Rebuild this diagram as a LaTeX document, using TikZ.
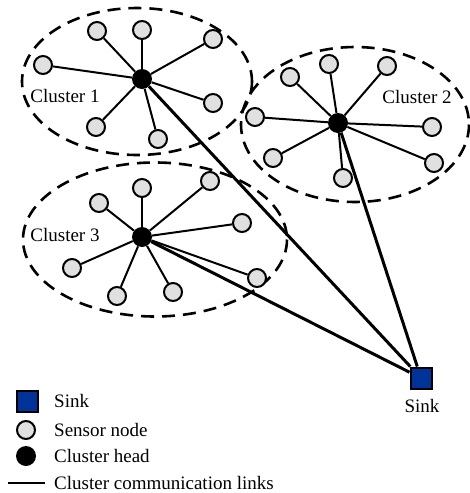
\documentclass[tikz,border=0pt]{standalone}
\usepackage{fontspec}
\setmainfont{Liberation Serif}
\begin{document}
\begin{tikzpicture}[x=1pt,y=-1pt,
  sensor/.style={circle,draw=black,line width=2pt,fill=black!12,minimum size=18pt,inner sep=0pt},
  head/.style={circle,fill=black,minimum size=20pt,inner sep=0pt},
  sinkbox/.style={rectangle,draw=black,line width=2pt,fill=sinkblue,minimum size=21pt,inner sep=0pt},
  clusterline/.style={draw=black,line width=2.6pt,dash pattern=on 13pt off 8pt},
  link/.style={draw=black,line width=2pt},
  sinklink/.style={draw=black,line width=3pt},
  lbl/.style={font=\fontsize{19}{22}\selectfont,inner sep=0pt}]
\definecolor{sinkblue}{RGB}{0,51,153}
\useasboundingbox (0,0) rectangle (469,493);
% clusters
\draw[clusterline] (137,81.5) ellipse [x radius=115, y radius=73.5];
\draw[clusterline] (355,124.5) ellipse [x radius=114, y radius=77.5];
\draw[clusterline] (155,239.5) ellipse [x radius=132, y radius=77];
% heads and sink
\node[head] (h1) at (142,79) {};
\node[head] (h2) at (338,123) {};
\node[head] (h3) at (142,237) {};
\node[sinkbox] (sink) at (421,378) {};
% sink links
\draw[sinklink] (h1) -- (sink);
\draw[sinklink] (h2) -- (sink);
\draw[sinklink] (h3) -- (sink);
% cluster 1 sensors
\node[sensor] (a1) at (97,31) {};
\node[sensor] (a2) at (142,30) {};
\node[sensor] (a3) at (213,39) {};
\node[sensor] (a4) at (43,65) {};
\node[sensor] (a5) at (213,103) {};
\node[sensor] (a6) at (96,127) {};
\node[sensor] (a7) at (158,139) {};
% cluster 2 sensors
\node[sensor] (b1) at (290,77) {};
\node[sensor] (b2) at (329,64) {};
\node[sensor] (b3) at (387,66) {};
\node[sensor] (b4) at (255,117) {};
\node[sensor] (b5) at (432,127) {};
\node[sensor] (b6) at (273,158) {};
\node[sensor] (b7) at (434,163) {};
\node[sensor] (b8) at (343,178) {};
% cluster 3 sensors
\node[sensor] (c1) at (99,203) {};
\node[sensor] (c2) at (142,188) {};
\node[sensor] (c3) at (210,181) {};
\node[sensor] (c4) at (242,223) {};
\node[sensor] (c5) at (72,268) {};
\node[sensor] (c6) at (117,296) {};
\node[sensor] (c7) at (173,292) {};
\node[sensor] (c8) at (257,278) {};
% links
\foreach \s in {a1,a2,a3,a4,a5,a6,a7} \draw[link] (h1) -- (\s);
\foreach \s in {b1,b2,b3,b4,b5,b6,b7,b8} \draw[link] (h2) -- (\s);
\foreach \s in {c1,c2,c3,c4,c5,c6,c7,c8} \draw[link] (h3) -- (\s);
% labels
\node[lbl] (l1) at (65,96) {Cluster 1};
\node[lbl] (l2) at (417,97) {Cluster 2};
\node[lbl] (l3) at (65,235) {Cluster 3};
\node[lbl] (ls) at (422,406) {Sink};
% legend
\node[sinkbox] (k1) at (27,401) {};
\node[sensor] (k2) at (26,430) {};
\node[head] (k3) at (26,456) {};
\coordinate (k4a) at (8,483);
\coordinate (k4b) at (45,483);
\draw[link] (k4a) -- (k4b);
\node[lbl,anchor=west] (t1) at (54,401) {Sink};
\node[lbl,anchor=west] (t2) at (54,430) {Sensor node};
\node[lbl,anchor=west] (t3) at (54,456) {Cluster head};
\node[lbl,anchor=west] (t4) at (54,483) {Cluster communication links};
\end{tikzpicture}
\end{document}
